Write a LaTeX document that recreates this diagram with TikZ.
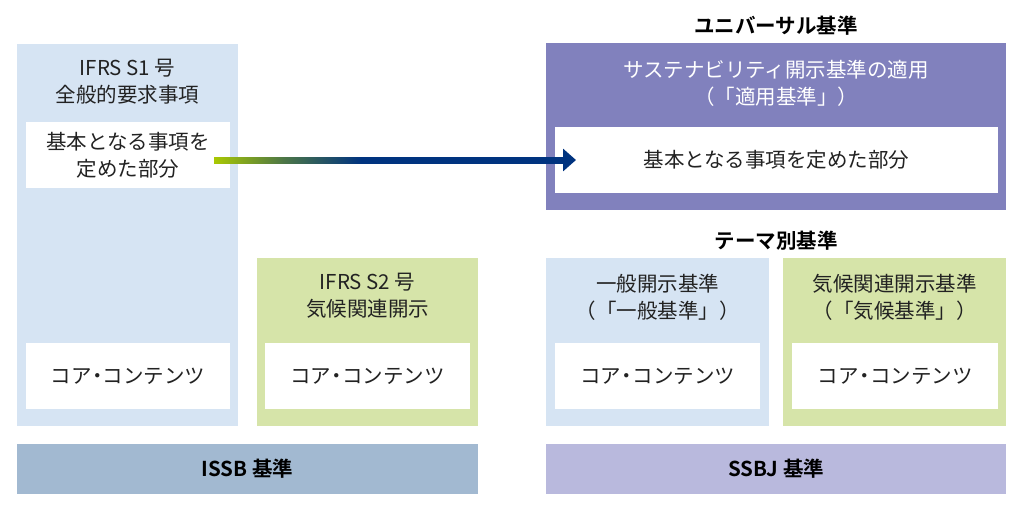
\documentclass[tikz,border=0pt]{standalone}
\usepackage{fontspec}
\setmainfont{Noto Sans CJK JP}[BoldFont={Noto Sans CJK JP Bold}]
\usetikzlibrary{arrows.meta,calc}
\definecolor{lblue}{HTML}{D6E4F3}
\definecolor{lgreen}{HTML}{D6E4A9}
\definecolor{issbc}{HTML}{A2B9D1}
\definecolor{purp}{HTML}{8181BD}
\definecolor{ssbjc}{HTML}{B9B9DD}
\definecolor{txt}{HTML}{222222}
\definecolor{agreen}{HTML}{A9C802}
\definecolor{anavy}{HTML}{00337F}
\pgfdeclarehorizontalshading{arrowgrad}{100bp}{color(0bp)=(agreen); color(25bp)=(agreen); color(35bp)=(agreen!45!anavy); color(46bp)=(anavy); color(100bp)=(anavy)}
\newcommand{\coretxt}{コア\hspace{-0.22em}・\hspace{-0.22em}コンテンツ}
\tikzset{
  panel/.style={anchor=north west, inner sep=0pt, outer sep=0pt, draw=none},
  wbox/.style={panel, fill=white, align=center, text=txt, font=\fontsize{20.5pt}{27pt}\selectfont},
  lbl/.style={inner sep=0pt, align=center, text=txt, font=\fontsize{20.5pt}{27pt}\selectfont},
  ttl/.style={inner sep=0pt, align=center, text=black, font=\fontsize{20.5pt}{27pt}\selectfont\bfseries},
  bar/.style={panel, align=center, text=black, font=\fontsize{20.5pt}{27pt}\selectfont\bfseries},
}
\begin{document}
\begin{tikzpicture}[x=1pt,y=-1pt]
\useasboundingbox[fill=white] (0,0) rectangle (1024,512);
% ISSB side
\node[panel, fill=lblue, minimum width=221pt, minimum height=382pt] (s1) at (17,44) {};
\node[lbl] (s1t) at (127.5,81.5) {IFRS S1 号\\全般的要求事項};
\node[wbox, minimum width=204pt, minimum height=66pt] (s1base) at (26,122) {基本となる事項を\\定めた部分};
\node[wbox, minimum width=204pt, minimum height=66pt] (s1core) at (26,343) {\coretxt};
\node[panel, fill=lgreen, minimum width=221pt, minimum height=168pt] (s2) at (257,258) {};
\node[lbl] (s2t) at (367.5,296) {IFRS S2 号\\気候関連開示};
\node[wbox, minimum width=205pt, minimum height=66pt] (s2core) at (265,343) {\coretxt};
\node[bar, fill=issbc, minimum width=461pt, minimum height=50pt] (issb) at (17,444) {ISSB 基準};
% SSBJ side
\node[ttl] (univ) at (776,26) {ユニバーサル基準};
\node[panel, fill=purp, minimum width=460pt, minimum height=167pt] (apply) at (546,43) {};
\node[lbl, text=white] (applyt) at (776,83) {サステナビリティ開示基準の適用\\（「適用基準」）};
\node[wbox, minimum width=443pt, minimum height=66pt] (ubase) at (555,127) {基本となる事項を定めた部分};
\node[ttl] (theme) at (776,241) {テーマ別基準};
\node[panel, fill=lblue, minimum width=223pt, minimum height=168pt] (gen) at (546,258) {};
\node[lbl] (gent) at (657.5,297) {一般開示基準\\（「一般基準」）};
\node[wbox, minimum width=205pt, minimum height=66pt] (gencore) at (555,343) {\coretxt};
\node[panel, fill=lgreen, minimum width=223pt, minimum height=168pt] (clim) at (783,258) {};
\node[lbl] (climt) at (894.5,297) {気候関連開示基準\\（「気候基準」）};
\node[wbox, minimum width=206pt, minimum height=66pt] (climcore) at (792,343) {\coretxt};
\node[bar, fill=ssbjc, minimum width=460pt, minimum height=50pt] (ssbj) at (546,444) {SSBJ 基準};
% arrow
\coordinate (a1) at ([xshift=-16pt]s1base.east |- ubase.west);
\coordinate (a2) at ([xshift=21pt]ubase.west);
\coordinate (ab) at ([xshift=-12pt]a2);
\draw[anavy, line width=6pt, -{Triangle[length=13pt,width=22pt]}] (a1) -- (a2);
\shade[shading=arrowgrad] ([yshift=3pt]a1) rectangle ([yshift=-3pt]ab);
\end{tikzpicture}
\end{document}
